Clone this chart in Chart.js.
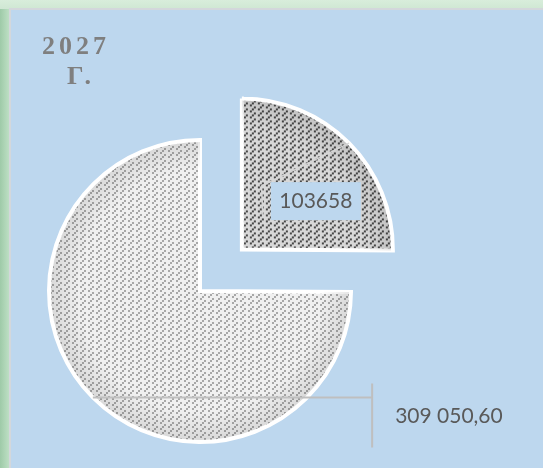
<!DOCTYPE html>
<html>
<head>
<meta charset="utf-8">
<title>2027 г.</title>
<script src="https://cdn.jsdelivr.net/npm/chart.js@4.4.0/dist/chart.umd.min.js"></script>
<style>
  html, body { margin: 0; padding: 0; }
  body {
    width: 543px; height: 468px; position: relative; overflow: hidden;
    background:
      linear-gradient(to bottom, #d8eddb 0, #cfe7d3 9px, transparent 9px),
      linear-gradient(to right, #9ecaa8 0, #bddfc4 9px);
  }
  #panel {
    position: absolute; left: 9px; top: 8px; right: 0; bottom: 0;
    background: #bdd7ee;
    border-left: 2px solid #d3d7db; border-top: 2px solid #d3d7db;
  }
  #wrap { position: absolute; left: 0; top: 0; width: 543px; height: 468px; }
</style>
</head>
<body>
<div id="panel"></div>
<div id="wrap"><canvas id="pieChart" width="543" height="468"></canvas></div>
<script>
// data
const categories = ['Часть 1', 'Часть 2'];
const values = [103658, 309050.60];
const valueLabels = ['103658', '309 050,60'];
const titleLines = ['2027', 'Г.'];

// dashed diagonal fill, like the excel pattern fill (2px blocks)
function makePattern(bg, fg) {
    const tile = document.createElement('canvas');
    tile.width = 24;
    tile.height = 6;
    const t = tile.getContext('2d');
    t.fillStyle = bg;
    t.fillRect(0, 0, 24, 6);
    t.fillStyle = fg;
    for (let bx = 0; bx < 12; bx++) {
        for (let by = 0; by < 3; by++) {
            if ((bx + by) % 3 === 0 && bx % 4 !== 3) {
                t.fillRect(bx * 2, by * 2, 2, 2);
            }
        }
    }
    return t.createPattern(tile, 'repeat');
}

// real shift chart.js applies for an arc offset
function arcShift(arc) {
    const off = (arc.options.offset || 0) / 4;
    const circ = arc.endAngle - arc.startAngle;
    return off * (2 - Math.sin(Math.min(Math.PI, circ)));
}

const titlePlugin = {
    id: 'cornerTitle',
    afterDraw(chart) {
        const ctx = chart.ctx;
        ctx.save();
        ctx.font = 'bold 26px "Liberation Serif"';
        ctx.letterSpacing = '4px';
        ctx.fillStyle = '#7f7f7f';
        ctx.textAlign = 'left';
        ctx.textBaseline = 'alphabetic';
        ctx.fillText(titleLines[0], 42, 54);
        ctx.fillText(titleLines[1], 67, 84);
        ctx.restore();
    }
};

const labelPlugin = {
    id: 'sliceLabels',
    afterDatasetsDraw(chart) {
        const ctx = chart.ctx;
        const arcs = chart.getDatasetMeta(0).data;
        ctx.save();
        arcs.forEach((arc) => {
            // soft inner shade near the rim
            const r = arc.outerRadius;
            const mid = (arc.startAngle + arc.endAngle) / 2;
            const s = arcShift(arc);
            const cx = arc.x + Math.cos(mid) * s;
            const cy = arc.y + Math.sin(mid) * s;
            ctx.save();
            ctx.beginPath();
            ctx.moveTo(cx, cy);
            ctx.arc(cx, cy, r - 2, arc.startAngle, arc.endAngle);
            ctx.closePath();
            ctx.clip();
            const g = ctx.createRadialGradient(cx, cy, r * 0.8, cx, cy, r);
            g.addColorStop(0, 'rgba(0,0,0,0)');
            g.addColorStop(1, 'rgba(0,0,0,0.10)');
            ctx.fillStyle = g;
            ctx.fillRect(cx - r, cy - r, 2 * r, 2 * r);
            ctx.restore();
        });

        ctx.font = '21px Lato';
        ctx.textBaseline = 'middle';
        arcs.forEach((arc, i) => {
            const r = arc.outerRadius;
            const mid = (arc.startAngle + arc.endAngle) / 2;
            const s = arcShift(arc);
            const cx = arc.x + Math.cos(mid) * s;
            const cy = arc.y + Math.sin(mid) * s;
            const ex = cx + Math.cos(mid) * r;
            const ey = cy + Math.sin(mid) * r;

            if (i === 0) {
                // leader inside the exploded slice
                ctx.strokeStyle = 'rgba(215,215,215,0.95)';
                ctx.lineWidth = 1.5;
                ctx.beginPath();
                ctx.moveTo(ex, ey);
                ctx.lineTo(cx + 0.13 * r, cy - 0.42 * r);
                ctx.lineTo(cx + 0.14 * r, cy - 0.21 * r);
                ctx.stroke();
                const lx = cx + 0.49 * r, ly = cy - 0.32 * r;
                ctx.fillStyle = '#bdd7ee';
                ctx.fillRect(lx - 45, ly - 19, 90, 38);
                ctx.fillStyle = '#595959';
                ctx.textAlign = 'center';
                ctx.fillText(valueLabels[i], lx, ly);
            } else {
                const vx = arc.x + 1.14 * r;
                ctx.strokeStyle = '#bfbfbf';
                ctx.lineWidth = 2;
                ctx.beginPath();
                ctx.moveTo(ex, ey);
                ctx.lineTo(vx, ey);
                ctx.moveTo(vx, ey - 14);
                ctx.lineTo(vx, ey + 50);
                ctx.stroke();
                ctx.fillStyle = '#595959';
                ctx.textAlign = 'left';
                ctx.fillText(valueLabels[i], vx + 23, ey + 19);
            }
        });
        ctx.restore();
    }
};

var pieCtx = document.getElementById('pieChart').getContext('2d');
var pieChart = new Chart(pieCtx, {
    type: 'pie',
    data: {
        labels: categories,
        datasets: [{
            data: values,
            backgroundColor: [makePattern('#d8d8d8', '#474747'), makePattern('#f0f0f0', '#a8a8a8')],
            borderColor: '#ffffff',
            borderWidth: 4,
            borderJoinStyle: 'miter',
            // chart.js moves an arc by offset / 4
            offset: [236, 0],
            clip: false
        }]
    },
    options: {
        responsive: false,
        animation: false,
        events: [],
        radius: 151,
        layout: { padding: { left: 0, right: 143, top: 120, bottom: 6 } },
        plugins: {
            legend: { display: false },
            tooltip: { enabled: false },
            title: { display: false }
        }
    },
    plugins: [labelPlugin, titlePlugin]
});
</script>
</body>
</html>
